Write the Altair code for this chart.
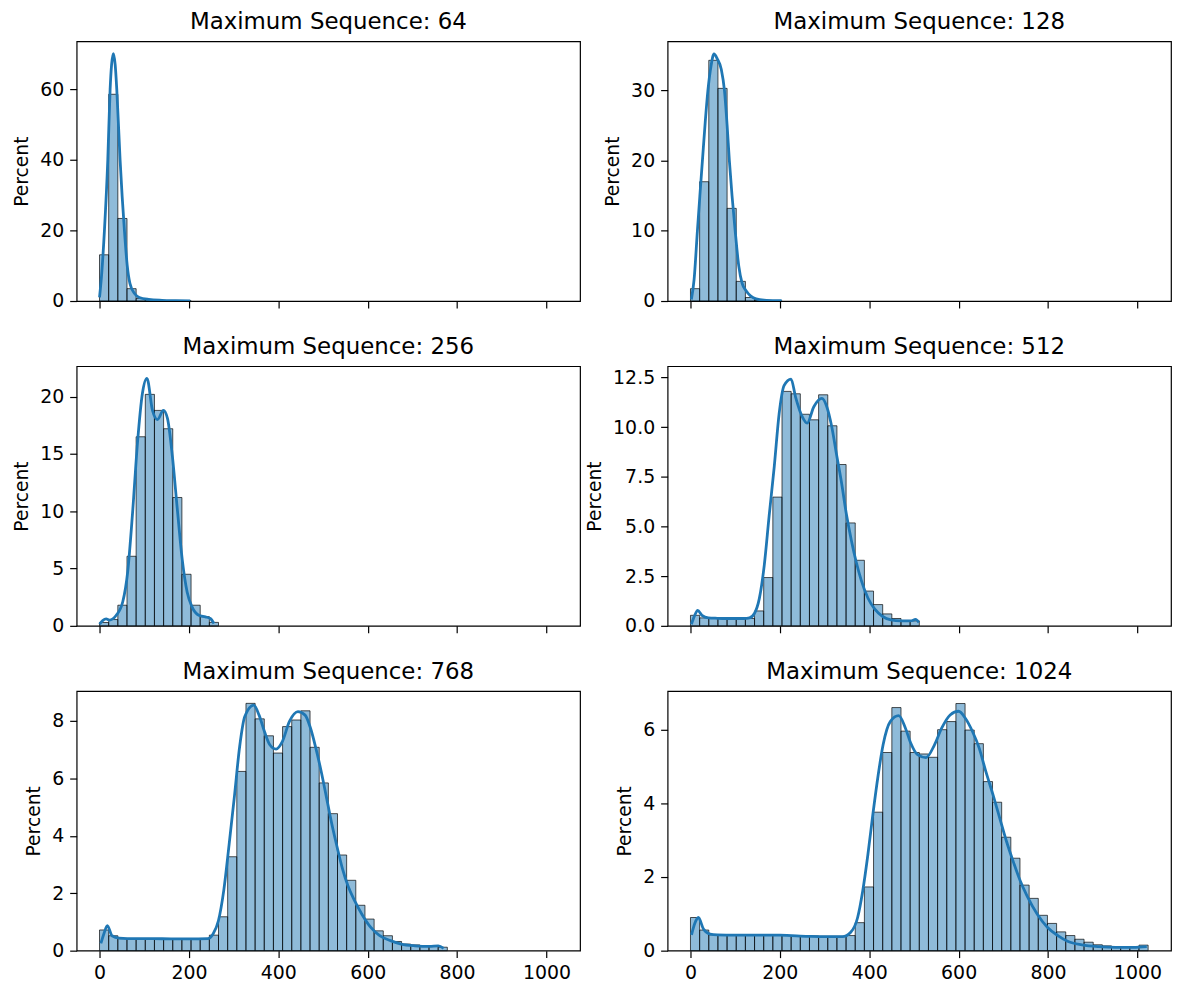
import altair as alt
import pandas as pd

BIN_W = 20.48

# ---- histogram bar heights (percent), bins of width 20.48 starting at 0 ----
H64 = [13.1, 58.6, 23.4, 3.5, 0.7, 0.3, 0.15, 0.1, 0.08, 0.07]
H128 = [1.76, 17.0, 34.3, 30.3, 13.2, 2.8, 0.5, 0.07, 0.04, 0.03]
H256 = [0.29, 0.55, 1.8, 6.07, 16.5, 20.2, 18.8, 17.2, 11.2, 4.5, 1.8, 0.8, 0.3]
H512 = [0.53, 0.4, 0.37, 0.37, 0.37, 0.37, 0.37, 0.75, 2.43, 6.48, 11.8, 11.68,
        10.65, 10.37, 11.63, 10.07, 8.12, 5.18, 3.3, 1.75, 1.07, 0.6, 0.37, 0.27, 0.25]
H768 = [0.72, 0.52, 0.42, 0.41, 0.41, 0.41, 0.41, 0.41, 0.41, 0.40, 0.40, 0.41,
        0.54, 1.18, 3.27, 6.24, 8.61, 8.07, 7.48, 6.88, 7.8, 8.03, 8.35, 7.08,
        5.84, 4.77, 3.33, 2.45, 1.58, 1.1, 0.69, 0.52, 0.32, 0.23, 0.2, 0.17, 0.17, 0.12]
H1024 = [0.9, 0.56, 0.43, 0.42, 0.42, 0.43, 0.43, 0.43, 0.42, 0.42, 0.41, 0.41,
         0.40, 0.40, 0.39, 0.39, 0.39, 0.41, 0.76, 1.73, 3.76, 5.38, 6.6, 5.96,
         5.38, 5.34, 5.25, 6.0, 6.22, 6.71, 5.99, 5.62, 4.59, 4.03, 3.08, 2.51,
         1.78, 1.42, 0.96, 0.74, 0.51, 0.41, 0.31, 0.23, 0.16, 0.13, 0.1, 0.09, 0.09, 0.15]

# ---- KDE curves ----
K64_X = [0, 5, 11, 18.5, 23.7, 27, 31, 35, 38.6, 46, 55.7, 62, 68, 78, 89, 110, 140, 170, 203]
K64_Y = [1.0, 8, 20, 40, 60, 67, 70.1, 67, 60, 40, 20, 10, 5, 2.2, 1.0, 0.45, 0.2, 0.1, 0.05]

K128_X = [2, 8, 15.5, 21, 26.7, 33, 39, 46, 52.6, 60, 69, 76, 82, 87, 93, 100, 108,
          115.6, 124, 135, 147, 170, 204]
K128_Y = [0.2, 3, 10, 15, 20, 25.5, 30, 33.5, 35.2, 34.5, 33.0, 30, 25, 20, 15, 10, 5,
          2.5, 1.5, 0.7, 0.3, 0.1, 0.05]

K256_X = [0, 7, 14.8, 22, 37, 52, 63, 74, 85, 96, 106, 118.5, 129.6, 143, 152, 163,
          174, 185, 196, 207, 222, 237, 248, 256]
K256_Y = [0.15, 0.45, 0.6, 0.5, 0.9, 2.1, 4.7, 9.9, 16, 20.3, 21.6, 18.8, 18.0, 18.8,
          18.1, 14.8, 10.2, 5.8, 2.95, 1.65, 0.92, 0.78, 0.64, 0.2]

K512_X = [2, 9, 16, 25.7, 40, 60, 80, 100, 120, 132, 143, 154, 165, 176, 187.5, 198.5,
          209.6, 225, 235, 250, 261, 276, 294, 305, 316, 327, 338, 349, 360, 371, 382,
          397, 412, 430, 448.5, 470, 492.6, 503.7, 511]
K512_Y = [0.08, 0.5, 0.78, 0.53, 0.4, 0.38, 0.37, 0.37, 0.37, 0.4, 0.62, 1.37, 3.03,
          5.53, 8.03, 10.7, 12.1, 12.42, 11.53, 10.53, 10.2, 11.03, 11.45, 11.03, 10.03,
          8.6, 7.2, 5.6, 4.3, 3.2, 2.3, 1.4, 0.85, 0.47, 0.3, 0.25, 0.25, 0.32, 0.17]

K768_X = [3, 10, 17.5, 28, 44, 80, 120, 160, 200, 242, 254, 266, 278, 290, 302, 313.5,
          325, 345, 357, 369, 381, 395, 409, 425, 444, 460, 472, 484, 496, 508, 520,
          532, 544, 556, 571, 587, 607, 627, 651, 675, 706, 738, 758, 770]
K768_Y = [0.25, 0.6, 0.87, 0.52, 0.44, 0.42, 0.42, 0.41, 0.41, 0.42, 0.58, 1.04, 2.1,
          3.7, 5.4, 7.1, 8.15, 8.55, 8.2, 7.63, 7.17, 7.02, 7.28, 7.98, 8.32, 8.2, 7.75,
          7.05, 6.24, 5.32, 4.39, 3.58, 2.83, 2.25, 1.73, 1.27, 0.81, 0.52, 0.35, 0.23,
          0.17, 0.15, 0.17, 0.08]

K1024_X = [2.3, 10, 17.6, 29, 44, 60, 100, 150, 200, 263, 300, 340, 358.6, 374, 385.4,
           397, 408, 420, 431, 447, 466, 481, 493, 508, 527, 546, 562, 581, 600, 615,
           631, 646, 661, 677, 692, 707, 723, 738, 753, 776, 799, 822, 845, 876, 914,
           952, 991, 1021]
K1024_Y = [0.43, 0.75, 0.9, 0.59, 0.45, 0.43, 0.42, 0.42, 0.42, 0.39, 0.38, 0.38, 0.5,
           0.9, 1.62, 2.61, 3.69, 4.77, 5.59, 6.22, 6.38, 6.04, 5.63, 5.32, 5.24, 5.59,
           6.04, 6.4, 6.5, 6.31, 5.95, 5.5, 4.86, 4.23, 3.6, 2.97, 2.39, 1.89, 1.49,
           0.99, 0.63, 0.41, 0.25, 0.16, 0.11, 0.09, 0.09, 0.11]

SEQS = [64, 128, 256, 512, 768, 1024]
HISTS = [H64, H128, H256, H512, H768, H1024]
KDES = [(K64_X, K64_Y), (K128_X, K128_Y), (K256_X, K256_Y),
        (K512_X, K512_Y), (K768_X, K768_Y), (K1024_X, K1024_Y)]
YMAX = [73.6, 37.0, 22.66, 13.07, 9.04, 7.05]
YTICKS = [[0, 20, 40, 60], [0, 10, 20, 30], [0, 5, 10, 15, 20],
          [0, 2.5, 5, 7.5, 10, 12.5], [0, 2, 4, 6, 8], [0, 2, 4, 6]]
YFMT = ["d", "d", "d", ".1f", "d", "d"]
XTICKS = [0, 200, 400, 600, 800, 1000]

BLUE = "#1f77b4"
W, H = 506, 261


def make_panel(i):
    heights = HISTS[i]
    bars_df = pd.DataFrame({
        "start": [k * BIN_W for k in range(len(heights))],
        "pct": heights,
    })
    bars_df["end"] = bars_df["start"] + BIN_W
    kx, ky = KDES[i]
    kde_df = pd.DataFrame({"x": kx, "y": ky})

    xs = alt.Scale(domain=[-51.2, 1075.2], nice=False, zero=False)
    ys = alt.Scale(domain=[0, YMAX[i]], nice=False)
    show_x = i >= 4
    xaxis = alt.Axis(values=XTICKS, labels=show_x, title=None, grid=False,
                     domain=False, format="d", labelFlush=False, labelOverlap=False)
    yaxis = alt.Axis(values=YTICKS[i], title="Percent", grid=False, domain=False,
                     format=YFMT[i], labelFlush=False, labelOverlap=False)

    bars = alt.Chart(bars_df).mark_rect(
        fill=BLUE, fillOpacity=0.5, stroke="black", strokeWidth=0.8, strokeOpacity=0.85
    ).encode(
        x=alt.X("start:Q", scale=xs, axis=xaxis),
        x2="end:Q",
        y=alt.Y("pct:Q", scale=ys, axis=yaxis),
        y2=alt.datum(0),
    )
    line = alt.Chart(kde_df).mark_line(
        color=BLUE, strokeWidth=2.8, interpolate="monotone", clip=True
    ).encode(
        x=alt.X("x:Q", scale=xs, axis=xaxis),
        y=alt.Y("y:Q", scale=ys, axis=yaxis),
    )
    return alt.layer(bars, line).properties(
        width=W, height=H,
        title=alt.Title(f"Maximum Sequence: {SEQS[i]}", offset=7),
    )


panels = [make_panel(i) for i in range(6)]

chart = alt.concat(
    *panels, columns=2, spacing={"row": 65.5, "column": 88}, bounds="flush"
).configure_axis(
    labelFont="DejaVu Sans", labelFontSize=19, labelColor="black",
    titleFont="DejaVu Sans", titleFontSize=18.8, titleFontWeight="normal",
    titleColor="black", tickColor="black", tickSize=7, tickWidth=1.2,
    labelPadding=6, titlePadding=8,
).configure_title(
    font="DejaVu Sans", fontSize=23, fontWeight="normal", color="black", anchor="middle"
).configure_view(
    stroke="black", strokeWidth=1.2
).properties(
    padding={"left": 4, "top": 0, "right": 0, "bottom": 0}
)

chart.save("out.html", embed_options={"renderer": "svg", "actions": False})
